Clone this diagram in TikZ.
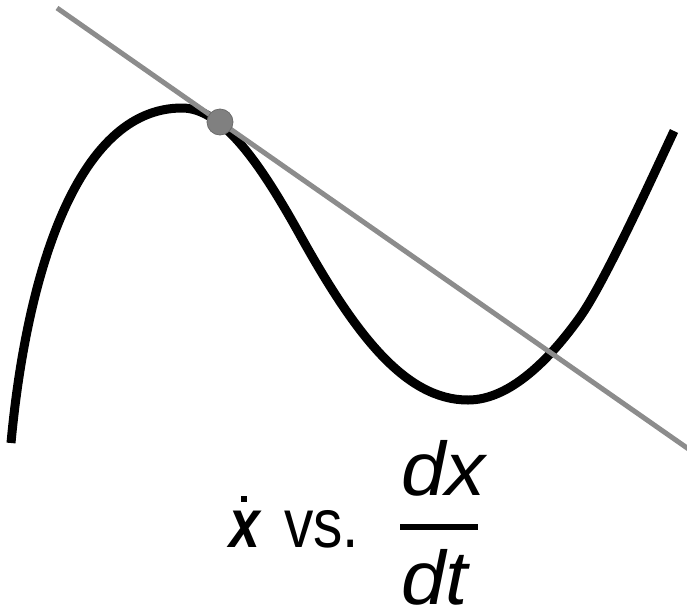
\documentclass[tikz,border=0pt]{standalone}
\usepackage{fontspec}
\setmainfont{Liberation Sans}
\begin{document}
\begin{tikzpicture}[x=1pt,y=-1pt,
  curve/.style={line width=9pt, line cap=butt, line join=round},
  tangent/.style={draw=black!45, line width=5pt},
  pointmark/.style={circle, fill=black!50, draw=black!58, line width=0.8pt, minimum size=26pt, inner sep=0pt},
  lab/.style={inner sep=0pt, anchor=base west, font=\fontsize{69}{72}\selectfont},
  fraclab/.style={inner sep=0pt, anchor=base west, font=\fontsize{76}{80}\selectfont\itshape}]
\useasboundingbox (0,0) rectangle (687,611);
% cubic-like curve
\coordinate (c0) at (11,443);
\coordinate (cmax) at (182,108);
\coordinate (cinf) at (300,235);
\coordinate (cmin) at (468,400);
\coordinate (cup) at (580,317);
\coordinate (cend) at (674,131);
\draw[curve] (c0) .. controls (26,280) and (75,108) .. (cmax)
  .. controls (222,108) and (260,163) .. (cinf)
  .. controls (355,334) and (405,400) .. (cmin)
  .. controls (510,400) and (550,359) .. (cup)
  .. controls (605,282) and (657,167) .. (cend);
% tangent line
\coordinate (t1) at (57,8);
\coordinate (t2) at (690,450);
\draw[tangent] (t1) -- (t2);
\node[pointmark] (p) at (220,122) {};
% label
\node[lab] (xd) at (229,547) {\scalebox{0.8}[1]{\bfseries\itshape x}};
\node[fill=black, minimum size=6pt, inner sep=0pt] (xdot) at (244,499) {};
\node[lab] (vs) at (284,547) {\scalebox{0.85}[1]{vs.}};
\node[fraclab] (num) at (401,495) {\scalebox{1.05}[1]{dx}};
\coordinate (b1) at (400,527);
\coordinate (b2) at (478,527);
\draw[line width=6pt] (b1) -- (b2);
\node[fraclab] (den) at (401,604) {\scalebox{1.05}[1]{dt}};
\end{tikzpicture}
\end{document}
